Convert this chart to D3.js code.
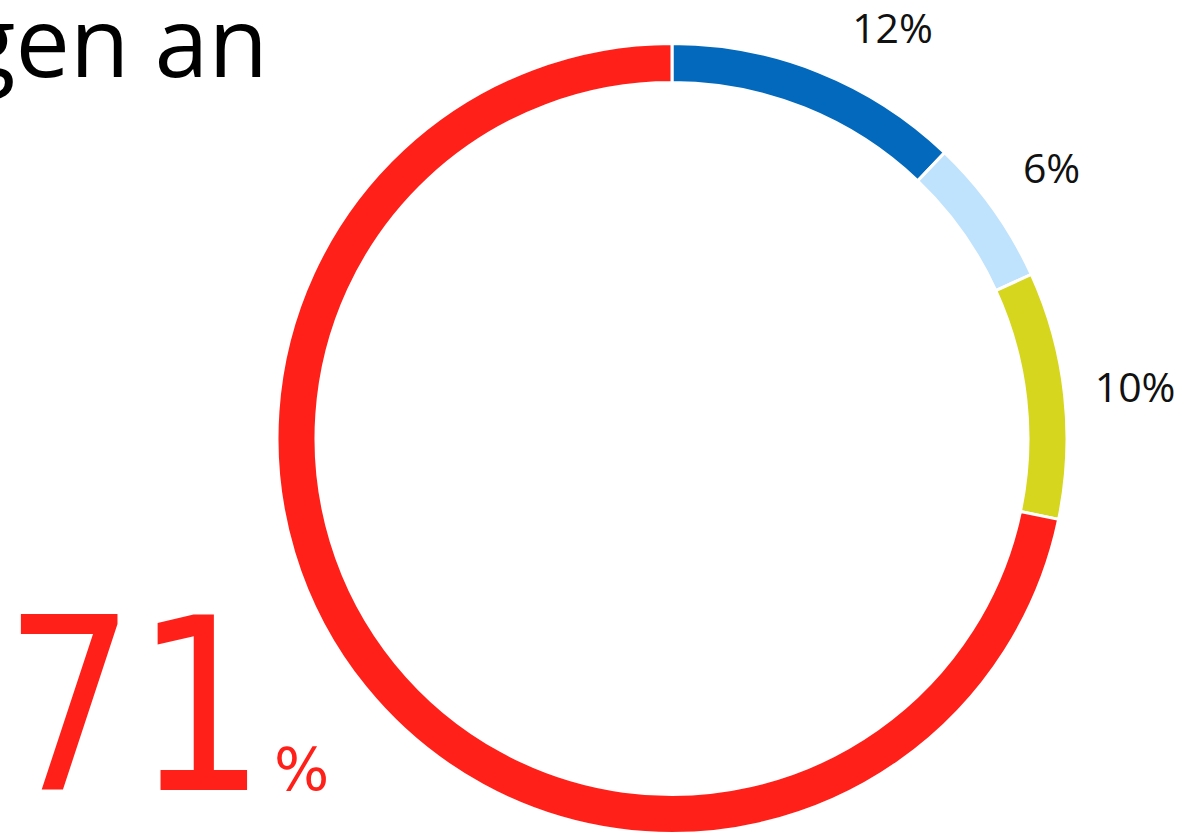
<!doctype html>
<html>
	<head>
		<meta charset="utf-8">
		<script src="https://d3js.org/d3.v7.min.js"></script>
		<style>
			html, body { margin: 0; padding: 0; background: #fff; overflow: hidden; }
		</style>
	</head>
	<body>
		<div id="chart"></div>
		<script>
            const categories = ["A", "B", "C", "D"];
            const values = [12, 6, 10, 71];
            const valueLabels = ["12%", "6%", "10%", ""];
            const colors = ["#0369bc", "#bfe2fd", "#d6d61f", "#ff2119"];
            const bigNumber = "71";
            const titleTail = "gen an";

            const width = 1189, height = 835;
            const cx = 672, cy = 438.5;
            const outerR = 395, innerR = 356, labelR = 466, labelTop = 28;

            const svg = d3.select("#chart")
                .append("svg")
                .attr("width", width)
                .attr("height", height);

            const pie = d3.pie().sort(null).value(function (d) { return d; });
            const arcs = pie(values);
            const arc = d3.arc().innerRadius(innerR).outerRadius(outerR);

            const g = svg.append("g").attr("transform", "translate(" + cx + "," + cy + ")");

            g.selectAll("path.slice")
                .data(arcs)
                .enter().append("path")
                .attr("class", "slice")
                .attr("d", arc)
                .attr("fill", function (d, i) { return colors[i]; })
                .attr("stroke", "#fff")
                .attr("stroke-width", 3);

            // labels sit on a circle outside the ring; slide down along it if too high
            function labelPos(d) {
                let a = (d.startAngle + d.endAngle) / 2;
                let y = -labelR * Math.cos(a);
                if (cy + y < labelTop) {
                    a = Math.acos((cy - labelTop) / labelR);
                }
                return [labelR * Math.sin(a), -labelR * Math.cos(a)];
            }

            g.selectAll("text.lbl")
                .data(arcs)
                .enter().append("text")
                .attr("class", "lbl")
                .attr("x", function (d) { return labelPos(d)[0]; })
                .attr("y", function (d) { return labelPos(d)[1]; })
                .attr("dy", "0.36em")
                .attr("text-anchor", "middle")
                .attr("font-family", "Open Sans, sans-serif")
                .attr("font-size", 41)
                .attr("fill", "#111")
                .text(function (d, i) { return valueLabels[i]; });

            svg.append("text")
                .attr("x", 268)
                .attr("y", 77)
                .attr("text-anchor", "end")
                .attr("font-family", "Open Sans, sans-serif")
                .attr("font-size", 97)
                .attr("fill", "#000")
                .text(titleTail);

            const big = svg.append("text")
                .attr("x", 4)
                .attr("y", 790)
                .attr("font-family", "DejaVu Sans, sans-serif")
                .attr("fill", colors[3]);
            big.append("tspan")
                .attr("font-size", 240)
                .attr("textLength", 262)
                .attr("lengthAdjust", "spacingAndGlyphs")
                .text(bigNumber);
            big.append("tspan")
                .attr("dx", 8)
                .attr("font-size", 58)
                .text("%");
		</script>
	</body>
</html>
